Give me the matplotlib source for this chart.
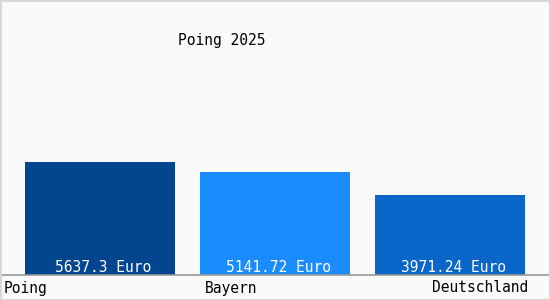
import matplotlib
matplotlib.use("Agg")
import matplotlib.pyplot as plt
from matplotlib.patches import Rectangle

categories = ["Poing", "Bayern", "Deutschland"]
values = [5637.3, 5141.72, 3971.24]
value_labels = ["5637.3 Euro", "5141.72 Euro", "3971.24 Euro"]
colors = ["#03468f", "#1a8cff", "#0a66c8"]
title = "Poing 2025"

W, H = 550, 300
fig = plt.figure(figsize=(W / 100, H / 100), dpi=100)
fig.patch.set_facecolor("#fafafa")
font = "DejaVu Sans Mono"
fs = 10.5

# axes: bottom at y=275px, top at y=0
ax = fig.add_axes([0, 25 / H, 1, 275 / H])
ax.set_facecolor("none")
ax.set_xlim(-100 / 175, 450 / 175)
ax.set_ylim(0, 275 / 0.02005)
for s in ax.spines.values():
    s.set_visible(False)
ax.set_xticks([])
ax.set_yticks([])

x = list(range(len(categories)))
ax.bar(x, values, width=150 / 175, color=colors, zorder=2)
ax.axhline(0, color="#999999", lw=1.2, zorder=3, clip_on=False)

for xi, lab in zip(x, value_labels):
    ax.text(xi + 0.02, 0, lab, ha="center", va="bottom", color="white",
            fontsize=fs, family=font, zorder=4)

# category labels
fig.text(4 / W, 1 - 288 / H, categories[0], ha="left", va="center",
         fontsize=fs, family=font, color="black")
fig.text(205 / W, 1 - 288 / H, categories[1], ha="left", va="center",
         fontsize=fs, family=font, color="black")
fig.text(528 / W, 1 - 288 / H, categories[2], ha="right", va="center",
         fontsize=fs, family=font, color="black")

fig.text(222 / W, 1 - 40 / H, title, ha="center", va="center",
         fontsize=fs, family=font, color="black")

fig.patches.append(Rectangle((0.5 / W, 0.5 / H), 1 - 1 / W, 1 - 1 / H,
                             transform=fig.transFigure, fill=False,
                             edgecolor="#d8d8d8", lw=1.5))

fig.savefig("out.png", dpi=100, facecolor=fig.get_facecolor())
